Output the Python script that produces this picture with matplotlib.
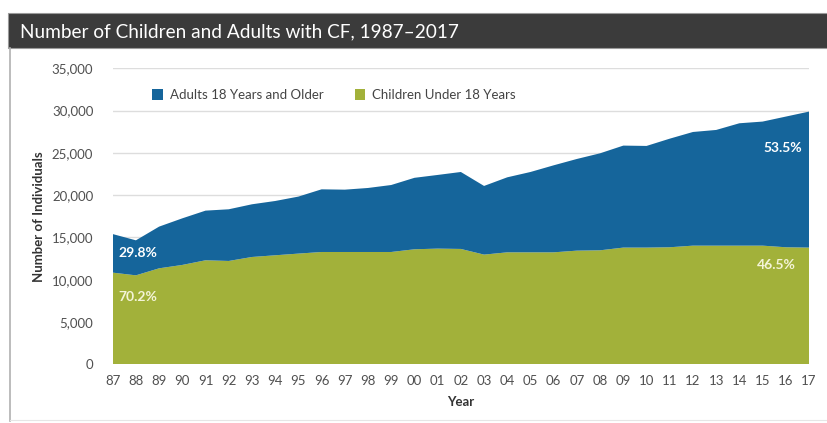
import matplotlib
matplotlib.use("Agg")
import matplotlib.pyplot as plt
from matplotlib.patches import Rectangle, Patch
from matplotlib.lines import Line2D

years = list(range(1987, 2018))
year_labels = [f"{y % 100:02d}" for y in years]
total = [15400, 14660, 16280, 17260, 18170, 18330, 18920, 19310, 19830, 20690,
         20650, 20850, 21200, 22050, 22390, 22740, 21090, 22110, 22740, 23530,
         24280, 24950, 25860, 25820, 26680, 27470, 27710, 28500, 28700, 29290, 29880]
children = [10840, 10520, 11350, 11750, 12300, 12220, 12690, 12890, 13090, 13280,
            13280, 13280, 13280, 13600, 13680, 13640, 12970, 13240, 13240, 13240,
            13440, 13480, 13800, 13800, 13840, 14030, 14030, 14030, 14030, 13840, 13800]
adults = [t - c for t, c in zip(total, children)]
yticks = [0, 5000, 10000, 15000, 20000, 25000, 30000, 35000]

blue = "#15659b"
green = "#a2b13a"
font = "Lato"

fig = plt.figure(figsize=(8.27, 4.23), dpi=100)
fig.patch.set_facecolor("white")

# title bar
fig.patches.append(Rectangle((8/827, 1-48.3/423), 1, 35/423, transform=fig.transFigure,
                             facecolor="#3b3b3b", edgecolor="#9a9a9a", linewidth=0.8, zorder=0))
fig.text(20/827, 1-31.5/423, "Number of Children and Adults with CF, 1987\u20132017",
         color="white", fontsize=13.7, family=font, va="center", ha="left")
# left frame line
fig.add_artist(Line2D([10/827, 10/827], [1-48/423, 0.005], transform=fig.transFigure,
                      color="#b0b0b0", linewidth=1.2))
fig.add_artist(Line2D([10/827, 1], [3/423, 3/423], transform=fig.transFigure,
                      color="#e6e6e6", linewidth=0.8))

ax = fig.add_axes([112.7/827, 1-364.3/423, 696.3/827, 296/423])
ax.stackplot(years, children, adults, colors=[green, blue], linewidth=0)
ax.set_xlim(years[0], years[-1])
ax.set_ylim(0, 35000)
ax.set_yticks(yticks)
ax.set_yticklabels([f"{v:,}" for v in yticks], family=font, fontsize=9.5, color="#505050")
ax.set_xticks(years)
ax.set_xticklabels(year_labels, family=font, fontsize=9.5, color="#505050")
ax.tick_params(axis="both", length=0)
ax.tick_params(axis="y", pad=14)
ax.tick_params(axis="x", pad=8)
ax.grid(axis="y", color="#dddddd", linewidth=1)
ax.set_axisbelow(True)
for s in ax.spines.values():
    s.set_visible(False)
ax.set_ylabel("Number of Individuals", family=font, fontsize=9.5, fontweight="bold",
              color="#333333", labelpad=5)
ax.set_xlabel("Year", family=font, fontsize=9.5, fontweight="bold", color="#333333", labelpad=6)

# legend
handles = [Patch(facecolor=blue, label="Adults 18 Years and Older"),
           Patch(facecolor=green, label="Children Under 18 Years")]
ax.legend(handles=handles, loc="upper left", bbox_to_anchor=(0.04, 0.97), ncol=2, frameon=False,
          prop={"family": font, "size": 9.5}, handlelength=0.8, handleheight=0.8,
          handletextpad=0.5, columnspacing=2.4, labelcolor="#444444")

# percent labels
ax.text(years[0] + 0.25, 13200, "29.8%", color="white", fontsize=10, fontweight="bold",
        family=font, va="center", ha="left")
ax.text(years[0] + 0.25, 8000, "70.2%", color="#f4f4d8", fontsize=10, fontweight="bold",
        family=font, va="center", ha="left")
ax.text(years[-1] - 0.3, 25600, "53.5%", color="white", fontsize=10, fontweight="bold",
        family=font, va="center", ha="right")
ax.text(years[-1] - 0.55, 11800, "46.5%", color="#f4f4d8", fontsize=10, fontweight="bold",
        family=font, va="center", ha="right")

fig.savefig("out.png", dpi=100)
